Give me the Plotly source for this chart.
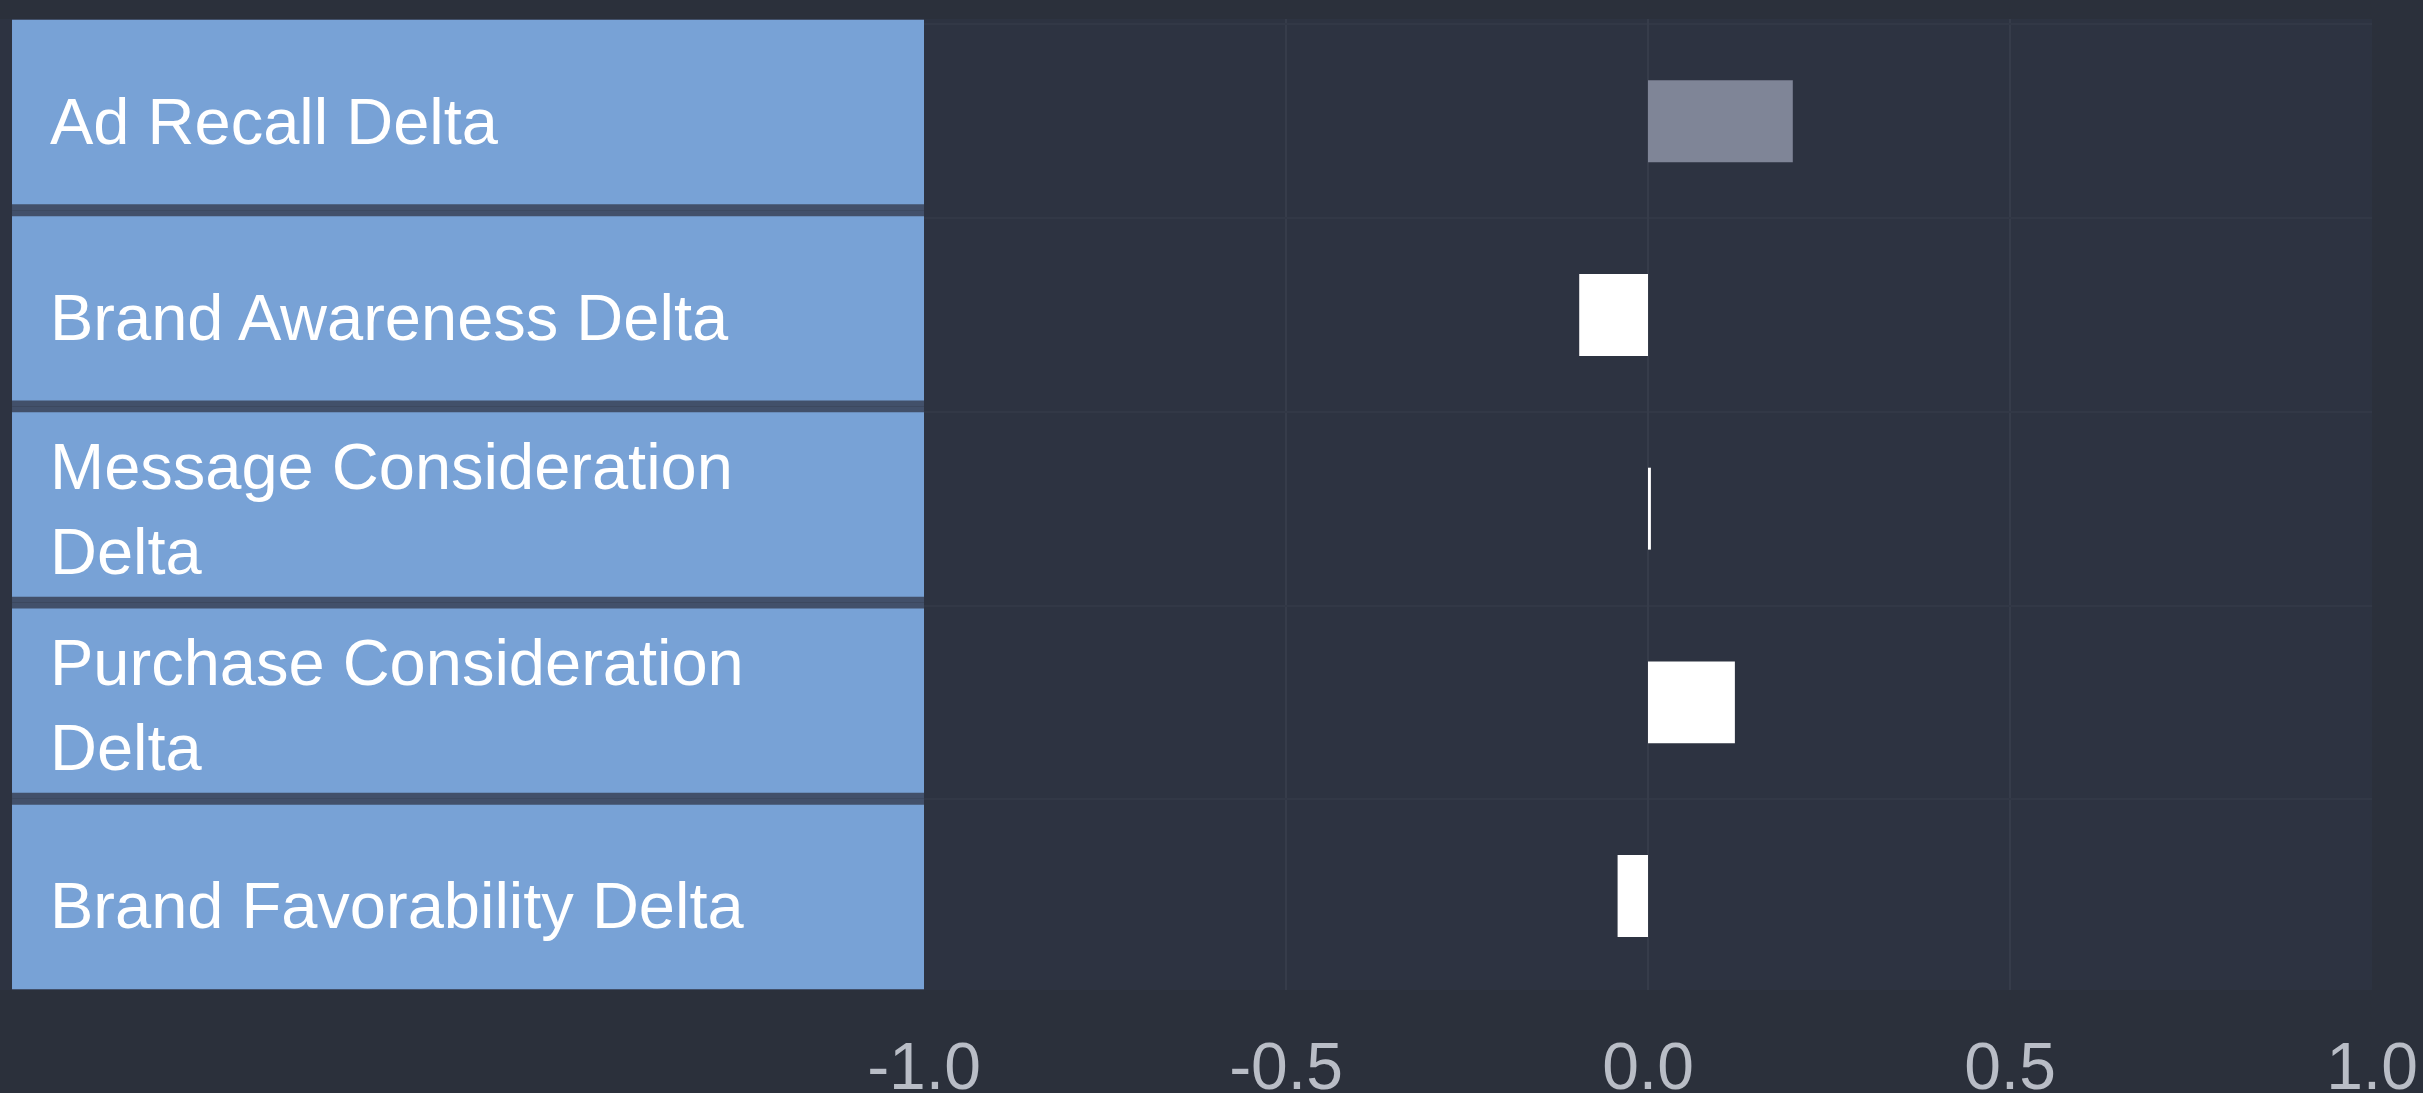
import plotly.graph_objects as go

categories = [
    "Ad Recall Delta",
    "Brand Awareness Delta",
    "Message Consideration Delta",
    "Purchase Consideration Delta",
    "Brand Favorability Delta",
]
label_text = [
    "Ad Recall Delta",
    "Brand Awareness Delta",
    "Message Consideration<br>Delta",
    "Purchase Consideration<br>Delta",
    "Brand Favorability Delta",
]
delta_values = [0.20, -0.095, 0.004, 0.12, -0.042]
bar_colors = ["#7f8597", "#ffffff", "#ffffff", "#ffffff", "#ffffff"]
x_ticks = [-1.0, -0.5, 0.0, 0.5, 1.0]
x_tick_text = ["-1.0", "-0.5", "0.0", "0.5", "1.0"]

W, H = 2423, 1093
L, R, T, B = 0, 51, 19, 103
plot_w = W - L - R
split = 924 / plot_w

PAPER = "#2b303b"
PLOT = "#2d3341"
GRID = "#363c4a"
BOX = "#78a2d6"
GAP = "#42506a"
FONT = "Liberation Sans, Arial, sans-serif"

fig = go.Figure()

# separator band behind the label boxes
fig.add_trace(go.Bar(
    y=categories, x=[0.987] * len(categories), base=[0.013] * len(categories),
    orientation="h", xaxis="x2", yaxis="y",
    marker=dict(color=GAP, line=dict(width=0)), width=1.0,
    hoverinfo="skip", showlegend=False,
))
# label panel boxes (one per category)
fig.add_trace(go.Bar(
    y=categories, x=[0.987] * len(categories), base=[0.013] * len(categories),
    orientation="h", xaxis="x2", yaxis="y",
    marker=dict(color=BOX, line=dict(width=0)), width=0.94,
    hoverinfo="skip", showlegend=False,
))

# data bars
fig.add_trace(go.Bar(
    y=categories, x=delta_values, orientation="h",
    xaxis="x", yaxis="y2",
    marker=dict(color=bar_colors, line=dict(width=0)), width=0.423,
    showlegend=False,
))

annotations = []
for cat, txt in zip(categories, label_text):
    two = "<br>" in txt
    annotations.append(dict(
        x=0.052, y=cat, xref="x2", yref="y", text=txt, showarrow=False,
        xanchor="left", yanchor="middle", align="left",
        yshift=-4 if two else -9,
        font=dict(family=FONT, size=65, color="#ffffff"),
    ))

fig.update_layout(
    width=W, height=H,
    margin=dict(l=L, r=R, t=T, b=B, pad=0),
    paper_bgcolor=PAPER, plot_bgcolor=PLOT,
    template="none",
    barmode="overlay",
    annotations=annotations,
    xaxis=dict(
        domain=[split, 1], range=[-1.0, 1.0], anchor="y2",
        tickvals=x_ticks, ticktext=x_tick_text,
        showgrid=True, gridcolor=GRID, gridwidth=2,
        zeroline=True, zerolinecolor=GRID, zerolinewidth=2,
        showline=False, ticks="", automargin=False,
        tickfont=dict(family=FONT, size=66, color="#b9bdc6"),
        ticklabelstandoff=32,
    ),
    xaxis2=dict(
        domain=[0, split], range=[0, 1], visible=False, anchor="y",
        fixedrange=True,
    ),
    yaxis=dict(
        type="category", categoryorder="array", categoryarray=categories,
        range=[4.475, -0.475], showticklabels=False, ticks="",
        showgrid=False, zeroline=False, showline=False, automargin=False,
        anchor="x2", domain=[0, 1],
    ),
    yaxis2=dict(
        type="category", categoryorder="array", categoryarray=categories,
        range=[4.485, -0.528], showticklabels=False, ticks="",
        showgrid=True, gridcolor="#323846", gridwidth=2, tickson="boundaries",
        zeroline=False, showline=False, automargin=False,
        anchor="x", domain=[0, 1],
    ),
)

fig.write_html("out.html")
